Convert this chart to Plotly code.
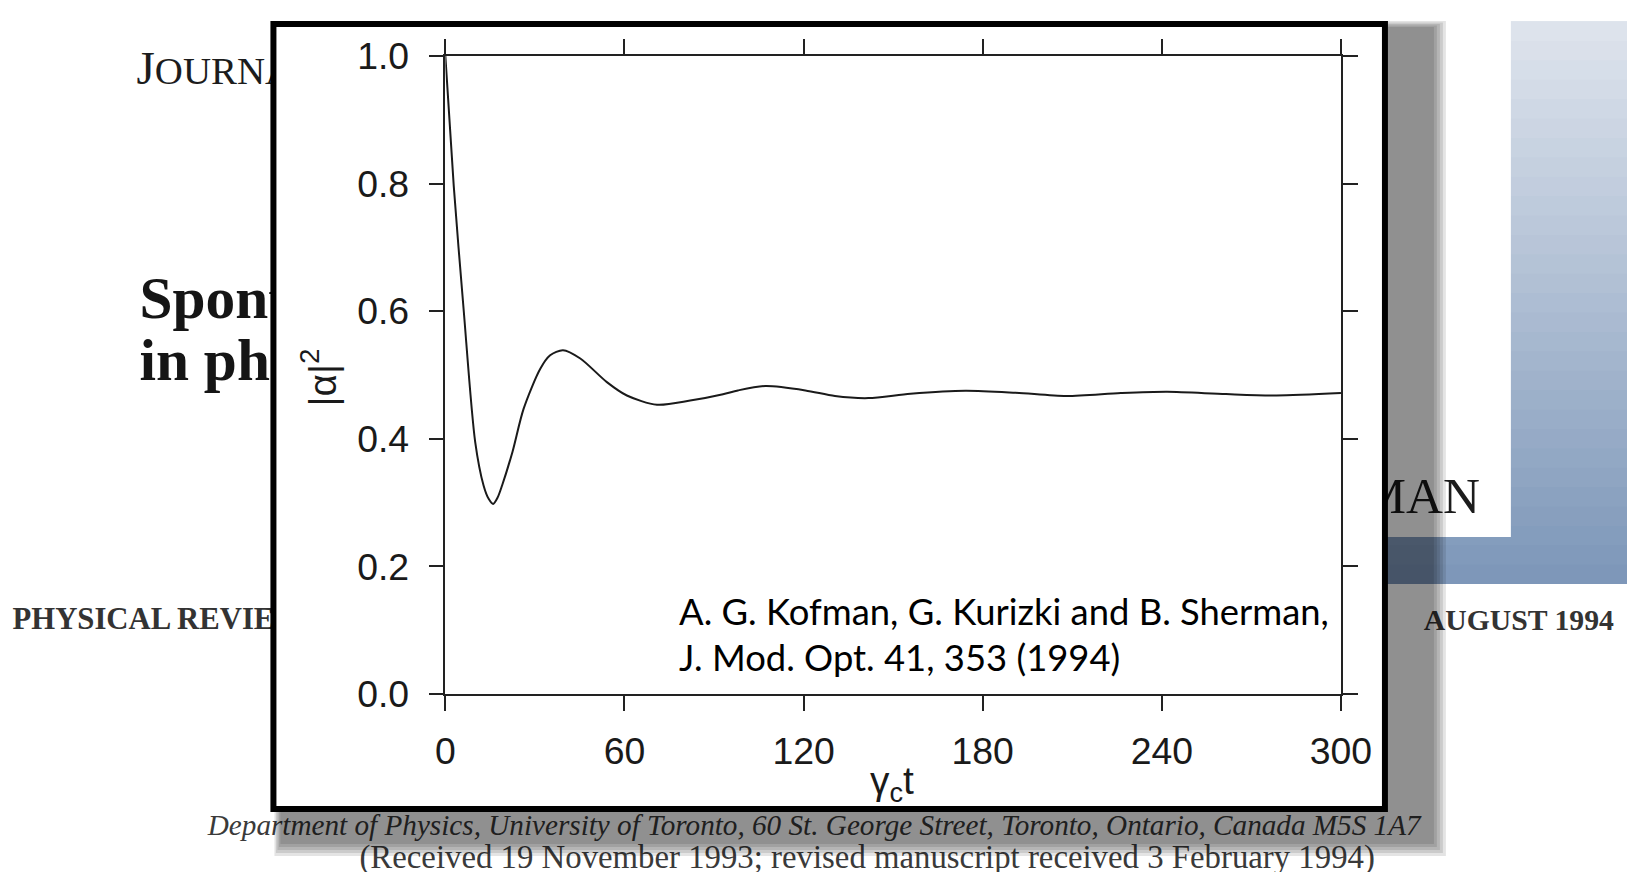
import plotly.graph_objects as go

# The photographed page maps figure pixels to screen pixels as
#   screen_x = SX * fig_x + OXS ,  screen_y = SY * fig_y + OYS
# (measured on earlier renders).  All positions below are written in
# screen pixels of the 1630x872 reference and converted with that map.
SX, SY = 0.9757, 0.953
OXS, OYS = 9.45, 18.9
FW, FH = 1658, 893
FSC = 1 / SX          # font scale so that text widths come out as intended

# ---------------- data ----------------
t_vals = [0, 2.8, 6.1, 10.0, 12.8, 14.5, 16.0, 17.5, 19.0, 22.5, 26.2, 31.8, 35.1,
          39.4, 45.2, 54.1, 60.8, 70.9, 82.0, 93.0, 98.0, 107.2, 120.6, 130.5,
          141.7, 155.8, 174.2, 191.1, 208.0, 226.3, 241.8, 261.5, 278.4, 300.0]
alpha_sq = [1.0, 0.797, 0.604, 0.395, 0.327, 0.306, 0.298, 0.308, 0.327, 0.380,
            0.447, 0.510, 0.531, 0.539, 0.526, 0.489, 0.468, 0.4535, 0.460, 0.470,
            0.476, 0.4828, 0.4760, 0.4671, 0.4639, 0.4707, 0.4755, 0.4723, 0.4671,
            0.4718, 0.4739, 0.4702, 0.4681, 0.4718]

x_ticks = [0, 60, 120, 180, 240, 300]
x_tick_labels = ["0", "60", "120", "180", "240", "300"]
y_ticks = [0.0, 0.2, 0.4, 0.6, 0.8, 1.0]
y_tick_labels = ["0.0", "0.2", "0.4", "0.6", "0.8", "1.0"]

citation_lines = ["A. G. Kofman, G. Kurizki and B. Sherman,",
                  "J. Mod. Opt. 41, 353 (1994)"]

# ---------------- helpers (screen pixel -> paper fraction) ----------------
def px(x):
    return ((x - OXS) / SX) / FW

def py(y):
    return 1 - ((y - OYS) / SY) / FH

def fs(size):
    return round(size * FSC, 1)

# screen extent covered by the figure
X_LO, X_HI = OXS, OXS + SX * FW
Y_LO, Y_HI = OYS, OYS + SY * FH

fig = go.Figure()

# ---------- layer 1: slide background text (subplot x/y in screen pixels) ----------
def bg_text(x, baseline, txt, size, family, color, pos):
    y = baseline - 0.25 * size
    fig.add_trace(go.Scatter(
        x=[x], y=[y], mode="text", text=[txt], textposition=pos,
        textfont=dict(size=fs(size), family=family, color=color),
        hoverinfo="skip", xaxis="x", yaxis="y", showlegend=False))

SERIF = "Liberation Serif"
bg_text(136, 82, "J<span style='font-size:%.1fpx'>OURNAL OF MODERN OPTICS</span>" % fs(38),
        46, SERIF, "#1c1c1c", "middle right")
bg_text(139, 316, "<b>Spontaneous and induced atomic decay</b>", 58, SERIF, "#151515", "middle right")
bg_text(139, 378, "<b>in photonic band structures</b>", 58, SERIF, "#151515", "middle right")
bg_text(1480, 511, "B. SHERMAN", 50, SERIF, "#1c1c1c", "middle left")
bg_text(12, 627, "<b>PHYSICAL REVIEW A</b>", 30, SERIF, "#333333", "middle right")
bg_text(1614, 628, "<b>AUGUST 1994</b>", 29, SERIF, "#333333", "middle left")
bg_text(814, 833, "<i>Department of Physics, University of Toronto, 60 St. George Street, "
        "Toronto, Ontario, Canada M5S 1A7</i>", 28.5, SERIF, "#3a3a3a", "middle center")
bg_text(867, 866, "(Received 19 November 1993; revised manuscript received 3 February 1994)",
        32, SERIF, "#3a3a3a", "middle center")

# ---------- layer 2: white panel inside the frame (covers the text beneath) ----------
fig.add_trace(go.Scatter(x=[0.5], y=[0.5], mode="markers",
                         marker=dict(size=1, color="rgba(0,0,0,0)"),
                         hoverinfo="skip", xaxis="x2", yaxis="y2", showlegend=False))

# ---------- layer 3: the chart ----------
fig.add_trace(go.Scatter(x=t_vals, y=alpha_sq, mode="lines",
                         line=dict(color="#1a1a1a", width=2, shape="spline", smoothing=0.8),
                         hoverinfo="skip", xaxis="x3", yaxis="y3", showlegend=False))

hidden = dict(visible=False, showgrid=False, zeroline=False, fixedrange=True)

axis_style = dict(showline=True, linecolor="#222222", linewidth=1.5, mirror="ticks",
                  ticks="outside", ticklen=15, tickwidth=1.5, tickcolor="#222222",
                  showgrid=False, zeroline=False,
                  tickfont=dict(family="Liberation Sans", size=fs(36.5), color="#1a1a1a"))

# ---------- shapes ----------
shapes = []
band_bottom = 582
top_col = (226, 231, 239)
bot_col = (124, 150, 184)
n = 30
for i in range(n):
    f = (i + 0.5) / n
    c = tuple(int(round(top_col[k] + (bot_col[k] - top_col[k]) * f)) for k in range(3))
    y1 = band_bottom * (i + 1) / n + (0.6 if i < n - 1 else 0)
    shapes.append(dict(type="rect", xref="x", yref="y", layer="below",
                       x0=0, x1=1700, y0=band_bottom * i / n, y1=y1,
                       fillcolor="rgb(%d,%d,%d)" % c, line=dict(width=0)))
# white left part
shapes.append(dict(type="rect", xref="x", yref="y", layer="below", x0=0, x1=300, y0=0, y1=585,
                   fillcolor="white", line=dict(width=0)))
# paper clipping (white)
shapes.append(dict(type="rect", xref="x", yref="y", layer="below", x0=102, x1=1511, y0=0, y1=535,
                   fillcolor="white", line=dict(width=0)))

# soft shadow (L-shaped, right and below the frame)
FR_L, FR_T, FR_R, FR_B = 270, 19, 1388, 810
SH_L, SH_T, SH_R, SH_B = 274, 19, 1446, 854
for i in range(5):
    r = SH_R - 3 * i
    b = SH_B - 3 * i
    t = SH_T + 1.5 * i
    l = SH_L + 1.5 * i
    path = "M %.1f,%.1f L %.1f,%.1f L %.1f,%.1f L %.1f,%.1f L %.1f,%.1f L %.1f,%.1f Z" % (
        FR_R, t, r, t, r, b, l, b, l, FR_B, FR_R, FR_B)
    shapes.append(dict(type="path", xref="x", yref="y", layer="above", path=path,
                       fillcolor="rgba(0,0,0,0.105)", line=dict(width=0)))
# black frame
shapes.append(dict(type="rect", xref="x", yref="y", layer="above",
                   x0=FR_L + 3, x1=FR_R - 3, y0=FR_T + 3, y1=FR_B - 3,
                   fillcolor="rgba(0,0,0,0)", line=dict(color="black", width=6)))

# ---------- annotations ----------
annotations = [
    dict(text=citation_lines[0], x=px(677), y=py(609), xref="paper", yref="paper",
         xanchor="left", yanchor="middle", showarrow=False,
         font=dict(family="Lato", size=fs(35.5), color="black")),
    dict(text=citation_lines[1], x=px(677), y=py(654.5), xref="paper", yref="paper",
         xanchor="left", yanchor="middle", showarrow=False,
         font=dict(family="Lato", size=fs(35.5), color="black")),
    dict(text="|α|<sup>2</sup>", x=px(318), y=py(375), xref="paper", yref="paper",
         xanchor="center", yanchor="middle", textangle=-90, showarrow=False,
         font=dict(family="Liberation Sans", size=fs(38), color="#1a1a1a")),
    dict(text="γ<sub>c</sub>t", x=px(892), y=py(781), xref="paper", yref="paper",
         xanchor="center", yanchor="middle", showarrow=False,
         font=dict(family="Liberation Sans", size=fs(38), color="#1a1a1a")),
]

fig.update_layout(
    width=FW, height=FH, autosize=False,
    margin=dict(l=0, r=0, t=0, b=0, pad=0),
    paper_bgcolor="white", plot_bgcolor="white",
    showlegend=False,
    xaxis=dict(domain=[0, 1], range=[X_LO, X_HI], **hidden),
    yaxis=dict(domain=[0, 1], range=[Y_HI, Y_LO], **hidden),
    xaxis2=dict(domain=[px(273), px(1385)], range=[0, 1], anchor="y2", **hidden),
    yaxis2=dict(domain=[py(807), py(22)], range=[0, 1], anchor="x2", **hidden),
    xaxis3=dict(domain=[px(445), px(1341)], range=[0, 300], anchor="y3",
                tickvals=x_ticks, ticktext=x_tick_labels, ticklabelstandoff=8, **axis_style),
    yaxis3=dict(domain=[py(692), py(54)], range=[0, 1.0], anchor="x3",
                tickvals=y_ticks, ticktext=y_tick_labels, ticklabelstandoff=12, **axis_style),
    shapes=shapes,
    annotations=annotations,
)

fig.write_html("out.html")
